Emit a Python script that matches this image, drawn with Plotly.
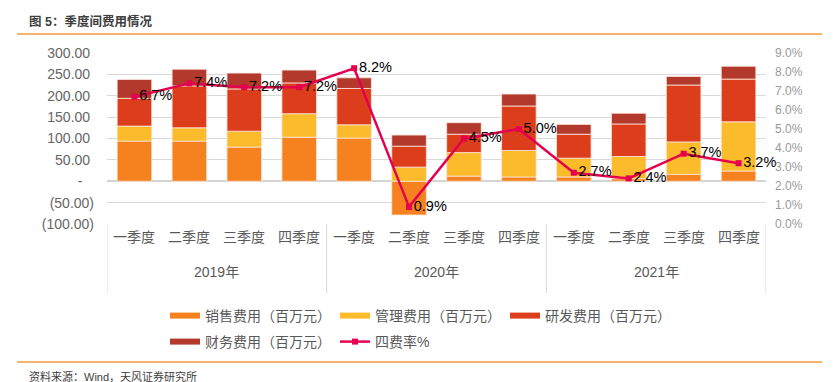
import plotly.graph_objects as go

quarters = ["一季度", "二季度", "三季度", "四季度"] * 3
years = ["2019年", "2020年", "2021年"]
sales = [94, 94, 80, 103, 101, -79, 12, 10, 10, 6, 16, 24]
admin = [35, 31, 37, 55, 31, 33, 55, 62, 44, 52, 76, 115]
rnd = [65, 98, 99, 72, 85, 49, 43, 104, 56, 76, 133, 100]
fin = [44, 39, 37, 30, 25, 26, 27, 28, 23, 25, 20, 30]
rate = [6.7, 7.4, 7.2, 7.2, 8.2, 0.9, 4.5, 5.0, 2.7, 2.4, 3.7, 3.2]
left_ticks = [-100, -50, 0, 50, 100, 150, 200, 250, 300]
left_labels = ["(100.00)", "(50.00)", "-\u00a0\u00a0\u00a0", "50.00\u00a0", "100.00\u00a0",
               "150.00\u00a0", "200.00\u00a0", "250.00\u00a0", "300.00\u00a0"]
series_names = ["销售费用（百万元）", "管理费用（百万元）", "研发费用（百万元）", "财务费用（百万元）"]
line_name = "四费率%"
colors = ["#F5821F", "#FBBB2B", "#DC3E1B", "#B2392B"]
line_color = "#E5004F"

L, T, W, H = 107, 53, 659, 171
def px(x):
    return (x - L) / W
def py(y):
    return 1 - (y - T) / H

FONT = "Liberation Sans, Arial, Noto Sans CJK SC, sans-serif"
x = list(range(len(quarters)))

fig = go.Figure()
for vals, name, c in zip([sales, admin, rnd, fin], series_names, colors):
    fig.add_trace(go.Bar(x=x, y=vals, name=name, marker_color=c, width=0.63,
                         marker_line=dict(color="rgba(255,230,220,0.8)", width=1),
                         showlegend=False))
fig.add_trace(go.Scatter(x=x, y=rate, yaxis="y2", mode="lines+markers+text",
                         line=dict(color=line_color, width=2.5),
                         marker=dict(symbol="square", size=6, color=line_color),
                         text=[f"{v:.1f}%" for v in rate], textposition="middle right",
                         textfont=dict(size=14.5, color="#000000", family=FONT),
                         cliponaxis=False, showlegend=False))

# legend proxies
for k, (name, c) in enumerate(zip(series_names, colors)):
    fig.add_trace(go.Scatter(x=[None], y=[None], mode="lines", name=name,
                             line=dict(color=c, width=6),
                             legend="legend" if k < 3 else "legend2"))
fig.add_trace(go.Scatter(x=[None], y=[None], mode="lines+markers", name=line_name,
                         line=dict(color=line_color, width=2.5),
                         marker=dict(symbol="square", size=6, color=line_color),
                         legend="legend2"))

shapes = []
for b in [-0.5, 3.5, 7.5, 11.5]:
    shapes.append(dict(type="line", xref="x", yref="paper", x0=b, x1=b,
                       y0=py(224), y1=py(293), line=dict(color="#D9D9D9", width=1)))
shapes.append(dict(type="line", xref="paper", yref="paper", x0=px(17), x1=px(822),
                   y0=py(34), y1=py(34), line=dict(color="#F39A3C", width=1.5)))
shapes.append(dict(type="line", xref="paper", yref="paper", x0=px(17), x1=px(822),
                   y0=py(362), y1=py(362), line=dict(color="#F39A3C", width=1.5)))

ann = []
for i, q in enumerate(quarters):
    ann.append(dict(x=i, y=py(247), xref="x", yref="paper", text=q, showarrow=False,
                    font=dict(size=14, color="#595959", family=FONT)))
for j, yr in enumerate(years):
    ann.append(dict(x=4 * j + 1.5, y=py(282), xref="x", yref="paper", text=yr, showarrow=False,
                    font=dict(size=14, color="#595959", family=FONT)))
ann.append(dict(x=px(27), y=py(22), xref="paper", yref="paper", text="<b>图 5：季度间费用情况</b>",
                showarrow=False, xanchor="left", yanchor="middle",
                font=dict(size=12.5, color="#404040", family=FONT)))
ann.append(dict(x=px(27), y=py(376), xref="paper", yref="paper", text="资料来源：Wind，天风证券研究所",
                showarrow=False, xanchor="left", yanchor="middle",
                font=dict(size=11, color="#404040", family=FONT)))

leg_common = dict(orientation="h", xanchor="left", yanchor="middle",
                  entrywidth=125, entrywidthmode="pixels",
                  font=dict(size=14, color="#595959"), itemwidth=30,
                  bgcolor="rgba(0,0,0,0)")

fig.update_layout(
    width=838, height=382, barmode="relative",
    margin=dict(l=L, r=838 - L - W, t=T, b=382 - T - H, autoexpand=False),
    paper_bgcolor="white", plot_bgcolor="white",
    font=dict(family=FONT, size=14, color="#595959"),
    xaxis=dict(range=[-0.5, 11.5], showticklabels=False, showgrid=False, zeroline=False,
               fixedrange=True),
    yaxis=dict(range=[-100, 300], tickvals=left_ticks, ticktext=left_labels,
               showgrid=True, gridcolor="#D9D9D9", gridwidth=1, zeroline=True,
               zerolinecolor="#D4D4D4", zerolinewidth=1.5,
               tickfont=dict(size=14, color="#666666"), ticklabelstandoff=12),
    yaxis2=dict(range=[0, 9], overlaying="y", side="right", dtick=1, tickformat=".1f",
                ticksuffix="%", showgrid=False, zeroline=False,
                tickfont=dict(size=12, color="#999999"), ticklabelstandoff=8),
    legend=dict(x=px(165), y=py(316), **leg_common),
    legend2=dict(x=px(165), y=py(342), **leg_common),
    shapes=shapes, annotations=ann,
)
fig.write_html("out.html", config={"displayModeBar": False},
               post_script="document.body.style.margin='0';document.body.style.padding='0';")
